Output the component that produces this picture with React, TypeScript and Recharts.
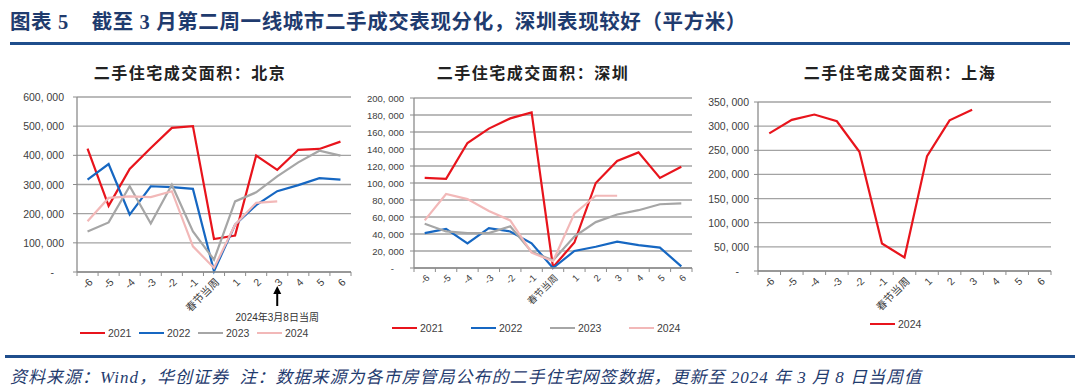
import { LineChart, Line, XAxis, YAxis, CartesianGrid } from "recharts"

// 春节前后各6周
const weeks = ["-6", "-5", "-4", "-3", "-2", "-1", "春节当周", "1", "2", "3", "4", "5", "6"]

const yearNames = ["2021", "2022", "2023", "2024"]
const yearColors = ["#E8141C", "#1667C2", "#A6A6A6", "#F2B8B8"]

// 北京 (平方米)
const bj2021 = [423000, 227000, 353000, 425000, 494000, 500000, 113000, 125000, 399000, 350000, 419000, 422000, 447000]
const bj2022 = [317000, 370000, 197000, 294000, 291000, 285000, 3000, 162000, 229000, 277000, 298000, 322000, 317000]
const bj2023 = [139000, 170000, 294000, 166000, 299000, 139000, 42000, 242000, 273000, 328000, 376000, 416000, 399000]
const bj2024 = [174000, 254000, 259000, 257000, 277000, 88000, 14000, 162000, 237000, 242000, null, null, null]
const bjTicks = [0, 100000, 200000, 300000, 400000, 500000, 600000]

// 深圳
const sz2021 = [106000, 105000, 147000, 164000, 176000, 183000, 1000, 30000, 100000, 126000, 136000, 106000, 119000]
const sz2022 = [41000, 46000, 29000, 47000, 43000, 29000, 0, 20000, 25000, 31000, 27000, 24000, 2000]
const sz2023 = [52000, 43000, 41000, 41000, 49000, 19000, 9000, 37000, 54000, 63000, 68000, 75000, 76000]
const sz2024 = [56000, 87000, 81000, 67000, 56000, 18000, 8000, 64000, 85000, 85000, null, null, null]
const szTicks = [0, 20000, 40000, 60000, 80000, 100000, 120000, 140000, 160000, 180000, 200000]

// 上海
const sh2024 = [285000, 313000, 324000, 310000, 247000, 57000, 28000, 238000, 312000, 334000, null, null, null]
const shTicks = [0, 50000, 100000, 150000, 200000, 250000, 300000, 350000]

type Series = { name: string; color: string; values: (number | null)[] }

const AXIS = "#8C8C8C"
const TEXT = "#404040"
const NAVY = "#1F3B6E"

function fmt(v: number) {
  return v.toLocaleString("en-US").replace(/,/g, ", ")
}

function ValueTick(props: any) {
  const { x, y, payload, fontSize } = props
  const v = payload.value
  return (
    <text
      x={v === 0 ? x - 10 : x}
      y={y}
      textAnchor="end"
      dominantBaseline="central"
      fill={TEXT}
      fontSize={fontSize}
      fontFamily="'Liberation Sans', Arial, sans-serif"
    >
      {v === 0 ? "-" : fmt(v)}
    </text>
  )
}

function WeekTick(props: any) {
  const { x, y, payload, step, fontSize } = props
  const i = payload.value as number
  const tx = x + 3
  const ty = y + 8
  return (
    <g>
      {i === 0 && <line x1={x - step / 2} x2={x - step / 2} y1={y} y2={y + 4} stroke={AXIS} />}
      <line x1={x + step / 2} x2={x + step / 2} y1={y} y2={y + 4} stroke={AXIS} />
      <text
        x={tx}
        y={ty}
        transform={`rotate(-45 ${tx} ${ty})`}
        textAnchor="end"
        dominantBaseline="central"
        fill={TEXT}
        fontSize={fontSize}
        fontFamily="'Liberation Sans', 'Noto Sans CJK SC', sans-serif"
      >
        {weeks[i]}
      </text>
    </g>
  )
}

interface PanelProps {
  title: string
  titleX: number
  left: number
  width: number
  margin: { top: number; right: number; left: number; bottom: number }
  yWidth: number
  xHeight: number
  ticks: number[]
  tickGap: number
  fontSize: number
  series: Series[]
  legendTop: number
  legendLeft: number
  legendGap: number
}

const TOP = 80
const HEIGHT = 280

function CityPanel(p: PanelProps) {
  const rows = weeks.map((w, i) => {
    const row: Record<string, number | string | null> = { idx: i, week: w }
    p.series.forEach((s) => {
      row[s.name] = s.values[i]
    })
    return row
  })
  const plotW = p.width - p.margin.left - p.margin.right - p.yWidth
  const step = plotW / weeks.length

  return (
    <>
      <div
        style={{
          position: "absolute",
          left: p.titleX - 150,
          width: 300,
          top: 60,
          textAlign: "center",
          fontSize: 16,
          fontWeight: 700,
          letterSpacing: 1.5,
          color: "#222",
          fontFamily: "'Noto Sans CJK SC', sans-serif",
        }}
      >
        {p.title}
      </div>
      <div style={{ position: "absolute", left: p.left, top: TOP }}>
        <LineChart width={p.width} height={HEIGHT} data={rows} margin={p.margin}>
          <CartesianGrid vertical={false} stroke="#A3A3A3" strokeWidth={1.3} />
          <XAxis
            dataKey="idx"
            type="number"
            domain={[-0.5, weeks.length - 0.5]}
            ticks={weeks.map((_, i) => i)}
            interval={0}
            height={p.xHeight}
            tickLine={false}
            tickSize={0}
            tickMargin={0}
            axisLine={{ stroke: AXIS, strokeWidth: 1.3 }}
            tick={<WeekTick step={step} fontSize={p.fontSize} />}
          />
          <YAxis
            type="number"
            domain={[0, p.ticks[p.ticks.length - 1]]}
            ticks={p.ticks}
            interval={0}
            width={p.yWidth}
            tickSize={4}
            tickMargin={p.tickGap}
            tickLine={{ stroke: AXIS }}
            axisLine={{ stroke: AXIS, strokeWidth: 1.3 }}
            tick={<ValueTick fontSize={p.fontSize} />}
          />
          {p.series.map((s) => (
            <Line
              key={s.name}
              type="linear"
              dataKey={s.name}
              stroke={s.color}
              strokeWidth={2.2}
              dot={false}
              connectNulls={false}
              isAnimationActive={false}
            />
          ))}
        </LineChart>
      </div>
      {p.series.map((s, k) => (
        <div
          key={s.name}
          style={{
            position: "absolute",
            left: p.legendLeft + k * p.legendGap,
            top: p.legendTop - 7,
            height: 14,
            display: "flex",
            alignItems: "center",
            fontSize: 10.5,
            color: TEXT,
            fontFamily: "'Liberation Sans', Arial, sans-serif",
          }}
        >
          <span style={{ display: "inline-block", width: 25, height: 2.5, background: s.color, marginRight: 3 }} />
          {s.name}
        </div>
      ))}
    </>
  )
}

function yearSeries(values: (number | null)[][]): Series[] {
  return values.map((v, k) => ({ name: yearNames[k], color: yearColors[k], values: v }))
}

export default function App() {
  // 北京图 "3" 周位置的箭头
  const bjPlotLeft = 10 + 67
  const bjStep = (360 - 10 - 9 - 67) / weeks.length
  const arrowX = bjPlotLeft + (weeks.indexOf("3") + 0.5) * bjStep

  return (
    <div
      style={{
        position: "absolute",
        left: 0,
        top: 0,
        width: 1080,
        height: 392,
        background: "#fff",
        overflow: "hidden",
      }}
    >
      <div
        style={{
          position: "absolute",
          left: 10,
          top: 5,
          fontSize: 20.5,
          fontWeight: 700,
          letterSpacing: 0.6,
          color: NAVY,
          whiteSpace: "nowrap",
          fontFamily: "'Liberation Serif', 'Noto Sans CJK SC', serif",
        }}
      >
        图表 5&nbsp;&nbsp;&nbsp;&nbsp;截至 3 月第二周一线城市二手成交表现分化，深圳表现较好（平方米）
      </div>
      <div style={{ position: "absolute", left: 10, top: 42, width: 1060, height: 3, background: "#1F4E8C" }} />

      <CityPanel
        title="二手住宅成交面积：北京"
        titleX={190}
        left={0}
        width={360}
        margin={{ top: 17, right: 9, left: 10, bottom: 10 }}
        yWidth={67}
        xHeight={78}
        ticks={bjTicks}
        tickGap={9}
        fontSize={10.5}
        series={yearSeries([bj2021, bj2022, bj2023, bj2024])}
        legendTop={333}
        legendLeft={80}
        legendGap={59}
      />
      <CityPanel
        title="二手住宅成交面积：深圳"
        titleX={533}
        left={360}
        width={340}
        margin={{ top: 18, right: 8, left: 4, bottom: 10 }}
        yWidth={50}
        xHeight={82}
        ticks={szTicks}
        tickGap={6}
        fontSize={9.5}
        series={yearSeries([sz2021, sz2022, sz2023, sz2024])}
        legendTop={328}
        legendLeft={392}
        legendGap={79}
      />
      <CityPanel
        title="二手住宅成交面积：上海"
        titleX={900}
        left={700}
        width={380}
        margin={{ top: 22, right: 29, left: 4, bottom: 10 }}
        yWidth={54}
        xHeight={79}
        ticks={shTicks}
        tickGap={5}
        fontSize={10.5}
        series={[{ name: "2024", color: yearColors[0], values: sh2024 }]}
        legendTop={324}
        legendLeft={870}
        legendGap={0}
      />

      <svg style={{ position: "absolute", left: 0, top: 0 }} width={1080} height={392}>
        <line x1={arrowX} x2={arrowX} y1={306} y2={293} stroke="#000" strokeWidth={2} />
        <polygon points={`${arrowX - 4},${294} ${arrowX + 4},${294} ${arrowX},${286}`} fill="#000" />
        <text
          x={arrowX}
          y={317}
          textAnchor="middle"
          dominantBaseline="central"
          fontSize={10}
          fill="#333"
          fontFamily="'Liberation Sans', 'Noto Sans CJK SC', sans-serif"
        >
          2024年3月8日当周
        </text>
      </svg>

      <div style={{ position: "absolute", left: 5, top: 355, width: 1070, height: 3, background: "#1F4E8C" }} />
      <div
        style={{
          position: "absolute",
          left: 10,
          top: 363,
          fontSize: 17,
          letterSpacing: 1,
          fontStyle: "italic",
          color: NAVY,
          whiteSpace: "nowrap",
          fontFamily: "'Liberation Serif', 'Noto Sans CJK SC', serif",
        }}
      >
        资料来源：Wind，华创证券&nbsp;&nbsp;注：数据来源为各市房管局公布的二手住宅网签数据，更新至 2024 年 3 月 8 日当周值
      </div>
    </div>
  )
}
